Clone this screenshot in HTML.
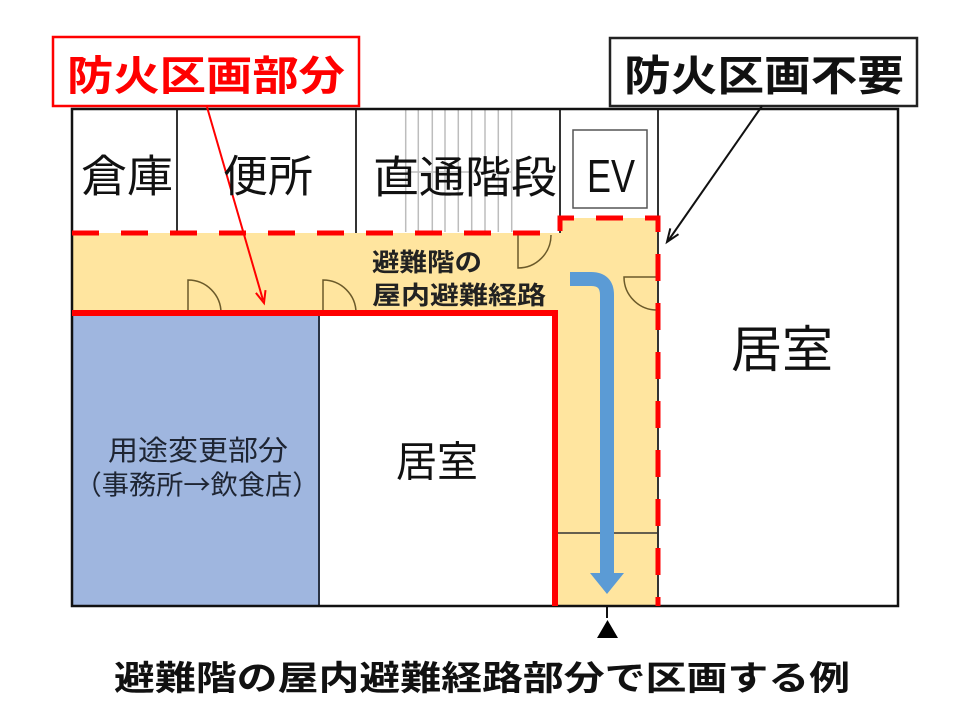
<!DOCTYPE html>
<html>
<head>
<meta charset="utf-8">
<style>
  html, body { margin: 0; padding: 0; background: #ffffff; }
  body { width: 960px; height: 720px; overflow: hidden; }
  svg { display: block; }
  text { font-family: "Liberation Sans", "Noto Sans CJK JP", sans-serif; }
  text.cjk { font-family: "Noto Sans CJK JP", "Liberation Sans", sans-serif; }
</style>
</head>
<body>
<svg width="960" height="720" viewBox="0 0 960 720" xmlns="http://www.w3.org/2000/svg">
  <rect x="0" y="0" width="960" height="720" fill="#ffffff"/>

  <!-- corridor fill -->
  <polygon points="72,233 560,233 560,218 658,218 658,606 558,606 558,313 72,313" fill="#FFE59F"/>
  <!-- blue room -->
  <rect x="72" y="316" width="247" height="290" fill="#9FB6DF"/>
  <line x1="319" y1="316" x2="319" y2="606" stroke="#2a3344" stroke-width="2"/>

  <!-- stair lines -->
  <g stroke="#bdbdbd" stroke-width="1.5">
    <line x1="405.7" y1="110" x2="405.7" y2="232"/>
    <line x1="418.3" y1="110" x2="418.3" y2="232"/>
    <line x1="432.3" y1="110" x2="432.3" y2="232"/>
    <line x1="445" y1="110" x2="445" y2="232"/>
    <line x1="458.3" y1="110" x2="458.3" y2="232"/>
    <line x1="471.7" y1="110" x2="471.7" y2="232"/>
    <line x1="485" y1="110" x2="485" y2="232"/>
    <line x1="498.3" y1="110" x2="498.3" y2="232"/>
    <line x1="511.7" y1="110" x2="511.7" y2="232"/>
    <line x1="405.7" y1="172" x2="511.7" y2="172"/>
  </g>

  <!-- room separators -->
  <g stroke="#333333" stroke-width="2">
    <line x1="177" y1="109" x2="177" y2="233"/>
    <line x1="356" y1="109" x2="356" y2="233"/>
    <line x1="560" y1="109" x2="560" y2="233"/>
    <line x1="658" y1="109" x2="658" y2="606"/>
  </g>
  <!-- EV box -->
  <rect x="573" y="130" width="74" height="78" fill="none" stroke="#555" stroke-width="1.5"/>

  <!-- outer building -->
  <rect x="72" y="109" width="826" height="497" fill="none" stroke="#111" stroke-width="2.5"/>

  <!-- doors -->
  <g fill="none" stroke="#6b5a2a" stroke-width="1.5">
    <path d="M188,313 V280 A33,33 0 0,1 221,313"/>
    <path d="M323,313 V280 A33,33 0 0,1 356,313"/>
    <path d="M518,235 V268 A33,33 0 0,0 551,235"/>
    <path d="M657,277 H624 A33,33 0 0,0 657,310"/>
  </g>

  <!-- inner line and tick in vertical corridor -->
  <line x1="558" y1="533" x2="658" y2="533" stroke="#333" stroke-width="1.5"/>
  <line x1="607" y1="522" x2="607" y2="544" stroke="#222" stroke-width="2"/>

  <!-- blue arrow -->
  <path d="M570,279 H591 Q607,279 607,295 V575" fill="none" stroke="#5B9BD5" stroke-width="14"/>
  <polygon points="590,573 624,573 607,594" fill="#5B9BD5"/>

  <!-- red solid boundary -->
  <path d="M72,313 H555 V606" fill="none" stroke="#ff0000" stroke-width="6"/>
  <!-- red dashed boundary -->
  <path d="M72,233 H560 V218 H658 V606" fill="none" stroke="#ff0000" stroke-width="5" stroke-dasharray="27 22"/>

  <!-- section marker below -->
  <line x1="607" y1="606" x2="607" y2="618" stroke="#111" stroke-width="2"/>
  <polygon points="597,638 618,638 607.5,620" fill="#000"/>

  <!-- label boxes -->
  <rect x="53" y="37" width="306" height="69" fill="#fff" stroke="#ff0000" stroke-width="2.5"/>
  <rect x="610" y="38" width="307" height="68" fill="#fff" stroke="#222" stroke-width="2.5"/>

  <!-- red arrow -->
  <line x1="207" y1="107" x2="263" y2="300" stroke="#ff0000" stroke-width="2"/>
  <polyline points="265.5,290.1 264,303 255.9,292.9" fill="none" stroke="#ff0000" stroke-width="2"/>
  <!-- black arrow -->
  <line x1="762" y1="106" x2="668" y2="241" stroke="#111" stroke-width="2"/>
  <polyline points="678.5,234.2 667,242 670.3,228.4" fill="none" stroke="#111" stroke-width="2"/>

  <!-- texts -->
  <text x="206" y="76" font-size="41" font-weight="bold" fill="#ff0000" text-anchor="middle" dominant-baseline="central" textLength="278" lengthAdjust="spacingAndGlyphs">防火区画部分</text>
  <text x="764" y="76" font-size="42" font-weight="bold" fill="#111" text-anchor="middle" dominant-baseline="central" textLength="280" lengthAdjust="spacingAndGlyphs">防火区画不要</text>

  <text x="127" y="177" font-size="44" fill="#111" text-anchor="middle" dominant-baseline="central" textLength="92" lengthAdjust="spacingAndGlyphs">倉庫</text>
  <text x="268" y="177" font-size="44" fill="#111" text-anchor="middle" dominant-baseline="central" textLength="90" lengthAdjust="spacingAndGlyphs">便所</text>
  <text x="465" y="178" font-size="44" fill="#111" text-anchor="middle" dominant-baseline="central" textLength="184" lengthAdjust="spacingAndGlyphs">直通階段</text>
  <text x="611" y="176" font-size="46" fill="#111" text-anchor="middle" dominant-baseline="central" textLength="48" lengthAdjust="spacingAndGlyphs">EV</text>

  <text x="372" y="263" font-size="25" font-weight="bold" fill="#222" dominant-baseline="central" textLength="110" lengthAdjust="spacingAndGlyphs">避難階の</text>
  <text x="372" y="296" font-size="25" font-weight="bold" fill="#222" dominant-baseline="central" textLength="174" lengthAdjust="spacingAndGlyphs">屋内避難経路</text>

  <text x="782" y="350" font-size="50" fill="#111" text-anchor="middle" dominant-baseline="central" textLength="102" lengthAdjust="spacingAndGlyphs">居室</text>
  <text x="437" y="462" font-size="42" fill="#111" text-anchor="middle" dominant-baseline="central" textLength="82" lengthAdjust="spacingAndGlyphs">居室</text>

  <text class="cjk" x="198" y="449" font-size="28" fill="#1e2533" text-anchor="middle" dominant-baseline="central" textLength="180" lengthAdjust="spacingAndGlyphs">用途変更部分</text>
  <text class="cjk" x="197" y="483" font-size="27" fill="#1e2533" text-anchor="middle" dominant-baseline="central" textLength="245" lengthAdjust="spacingAndGlyphs">（事務所→飲食店）</text>

  <text x="482" y="679" font-size="34" font-weight="bold" fill="#111" text-anchor="middle" dominant-baseline="central" textLength="736" lengthAdjust="spacingAndGlyphs">避難階の屋内避難経路部分で区画する例</text>
</svg>
</body>
</html>
